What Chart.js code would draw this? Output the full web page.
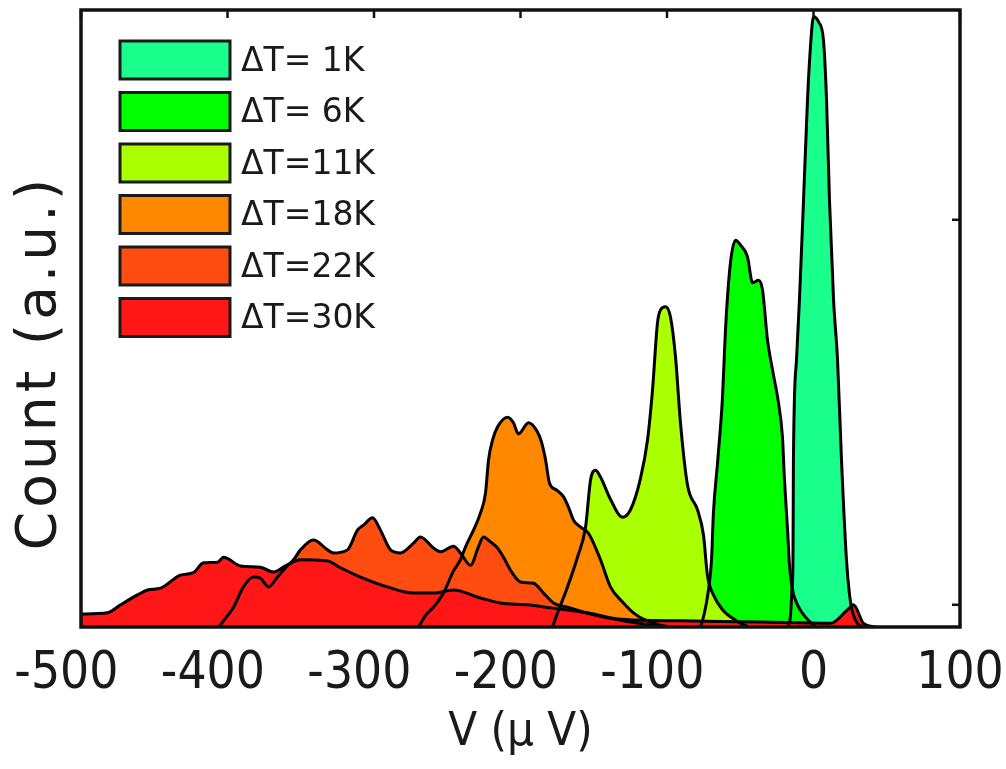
<!DOCTYPE html>
<html lang="en">
  <head>
    <meta charset="UTF-8" />
    <title>Count vs V</title>
    <style>
      html, body { margin: 0; padding: 0; background: #fff; }
      #wrap { width: 1006px; height: 769px; }
    </style>
  </head>
  <body>
    <div id="wrap"><canvas id="myChart"></canvas></div>
    <script src="https://cdn.jsdelivr.net/npm/chart.js@4.4.0/dist/chart.umd.min.js"></script>
    <script>
      // V in microvolts, count in arbitrary units (0..100 over the plot height)
      const x_1K = [-17.7, -15.7, -14.7, -14.0, -13.7, -11.6, -9.6, -6.8, -4.1, -2.0, 0, 3.4, 6.8, 8.9, 10.9, 13.7, 16.4, 19.1, 22.5, 24.6, 26.6, 30.0, 33.4];
      const y_1K = [0, 1.9, 6.0, 10.9, 27.1, 43.3, 53.0, 69.2, 85.4, 94.3, 98.9, 98.1, 95.1, 85.4, 69.2, 53.0, 43.3, 27.1, 10.9, 5.2, 2.4, 0.6, 0];

      const x_6K = [-77.1, -74.4, -71.7, -69.6, -68.3, -65.5, -62.1, -60.1, -56.7, -53.2, -49.8, -45.1, -41.6, -37.5, -34.8, -31.4, -28.0, -23.9, -21.2, -19.8, -17.7, -16.4, -14.3, -10.9, -5.5, 1.4];
      const y_6K = [0, 2.3, 6.0, 10.9, 18.5, 26.6, 37.3, 48.1, 59.0, 62.7, 61.9, 60.0, 55.8, 56.2, 54.6, 46.5, 41.7, 36.3, 30.8, 23.8, 15.7, 10.0, 6.0, 3.6, 1.6, 0];

      const x_11K = [-178.2, -174.7, -167.9, -161.1, -155.6, -152.2, -148.8, -145.4, -138.6, -130.4, -124.9, -118.1, -113.3, -109.9, -106.5, -104.4, -101.0, -97.6, -94.2, -90.8, -86.0, -79.2, -75.1, -72.4, -68.3, -62.1, -53.2, -44.4];
      const y_11K = [0, 2.3, 6.5, 11.3, 16.2, 23.8, 25.4, 24.3, 20.7, 17.8, 19.0, 24.1, 30.3, 38.4, 49.3, 51.4, 51.9, 50.2, 43.8, 33.1, 23.0, 19.0, 14.9, 8.4, 5.2, 2.8, 1.1, 0];

      const x_18K = [-269.6, -264.8, -259.4, -252.6, -245.7, -241.0, -237.5, -232.1, -227.3, -223.9, -221.8, -219.1, -215.7, -208.9, -204.8, -201.4, -194.5, -188.4, -185.7, -182.9, -180.2, -175.4, -170.6, -167.2, -163.8, -159.0, -153.6, -145.4, -138.6, -129.7, -122.9, -114.7, -104.4, -97.6];
      const y_18K = [0, 1.9, 3.2, 5.5, 9.1, 10.9, 13.0, 15.7, 18.5, 21.7, 27.1, 30.3, 32.4, 34.0, 33.1, 31.3, 33.1, 31.6, 30.0, 27.1, 23.3, 22.2, 21.1, 19.4, 17.3, 16.2, 15.2, 10.9, 6.5, 3.9, 2.3, 1.1, 0.3, 0];

      const x_22K = [-406.1, -403.4, -395.9, -389.1, -382.3, -377.5, -372.0, -365.9, -360.4, -354.9, -350.2, -341.3, -331.7, -327.6, -318.1, -311.3, -307.2, -301.0, -295.6, -288.7, -281.9, -273.0, -268.3, -259.4, -254.6, -245.7, -241.0, -234.1, -228.7, -225.3, -220.5, -215.7, -211.6, -206.8, -200.0, -191.1, -184.3, -177.5, -167.9, -152.2, -131.7, -111.3, -104.4];
      const y_22K = [0, 0.8, 3.2, 6.5, 8.1, 7.9, 6.5, 8.1, 9.6, 10.9, 12.5, 14.1, 12.5, 12.0, 12.5, 15.7, 16.5, 17.7, 15.7, 12.5, 12.0, 13.6, 14.6, 12.8, 12.2, 13.1, 12.0, 10.0, 13.0, 14.6, 13.8, 12.8, 11.3, 9.2, 7.3, 7.1, 5.5, 3.9, 3.2, 2.1, 1.1, 0.3, 0];

      const x_30K = [-500, -481.9, -473.0, -461.4, -454.6, -445.7, -432.1, -423.2, -416.4, -406.8, -402.7, -391.1, -377.5, -368.6, -360.4, -350.2, -331.7, -322.9, -309.2, -290.8, -273.0, -259.4, -245.7, -227.3, -213.7, -195.2, -179.5, -154.3, -133.8, -90.8, -36.2, 11.6, 23.2, 27.3, 34.1, 42.3];
      const y_30K = [2.1, 2.3, 3.6, 5.2, 6.0, 6.3, 8.4, 8.8, 10.4, 10.5, 11.3, 9.9, 9.7, 8.9, 9.9, 10.9, 10.7, 9.6, 8.1, 6.5, 5.5, 5.5, 6.0, 4.7, 3.9, 3.6, 3.1, 2.3, 1.3, 1.0, 0.8, 0.6, 2.8, 3.6, 0.6, 0];

      const seriesLabels = ["ΔT= 1K", "ΔT= 6K", "ΔT=11K", "ΔT=18K", "ΔT=22K", "ΔT=30K"];
      const seriesX = [x_1K, x_6K, x_11K, x_18K, x_22K, x_30K];
      const seriesY = [y_1K, y_6K, y_11K, y_18K, y_22K, y_30K];
      const xTicks = [-500, -400, -300, -200, -100, 0, 100];
      const yTickMarks = [3.6, 66];

      const FILLS = ["#1aff8c", "#00ff00", "#aaff00", "#ff8800", "#ff4d12", "#ff1616"];
      const TEXT = "#1a1a1a";
      const COND = "'DejaVu Sans Condensed', 'DejaVu Sans', sans-serif";

      const datasets = seriesLabels.map((lab, i) => ({
        label: lab,
        data: seriesX[i].map((v, j) => ({ x: v, y: seriesY[i][j] })),
        backgroundColor: FILLS[i],
        borderColor: "#000",
        borderWidth: 3,
        fill: "origin",
        pointRadius: 0,
        cubicInterpolationMode: "monotone",
        // hotter curves sit on top
        order: seriesLabels.length - 1 - i,
      }));

      // box around the plot with inward ticks (top and right)
      const frame = {
        id: "frame",
        afterDatasetsDraw(chart) {
          const { ctx, chartArea: a, scales } = chart;
          ctx.save();
          ctx.strokeStyle = "#111";
          ctx.lineWidth = 3.5;
          ctx.strokeRect(a.left, a.top, a.right - a.left, a.bottom - a.top);
          ctx.lineWidth = 2.5;
          xTicks.forEach((v) => {
            const px = scales.x.getPixelForValue(v);
            ctx.beginPath();
            ctx.moveTo(px, a.top);
            ctx.lineTo(px, a.top + 8);
            ctx.stroke();
          });
          yTickMarks.forEach((v) => {
            const py = scales.y.getPixelForValue(v);
            ctx.beginPath();
            ctx.moveTo(a.right, py);
            ctx.lineTo(a.right - 8, py);
            ctx.stroke();
          });
          ctx.restore();
        },
      };

      // legend boxes in the upper left of the plot, plus the y title
      const boxLegend = {
        id: "boxLegend",
        afterDraw(chart) {
          const { ctx, chartArea: a } = chart;
          ctx.save();
          chart.data.datasets.forEach((ds, i) => {
            const top = a.top + 31 + i * 51.5;
            ctx.fillStyle = ds.backgroundColor;
            ctx.fillRect(a.left + 39, top, 110, 38);
            ctx.strokeStyle = "#1a1a1a";
            ctx.lineWidth = 3;
            ctx.strokeRect(a.left + 39, top, 110, 38);
            ctx.fillStyle = TEXT;
            ctx.font = "33px 'DejaVu Sans'";
            ctx.textAlign = "left";
            ctx.textBaseline = "middle";
            ctx.fillText(ds.label, a.left + 160, top + 21);
          });
          ctx.translate(a.left - 40, (a.top + a.bottom) / 2 + 44);
          ctx.rotate(-Math.PI / 2);
          ctx.font = "55px 'DejaVu Sans'";
          ctx.letterSpacing = "4px";
          ctx.textAlign = "center";
          ctx.textBaseline = "middle";
          ctx.fillText("Count (a.u.)", 0, 0);
          ctx.restore();
        },
      };

      const ctx = document.getElementById("myChart");
      const myChart = new Chart(ctx, {
        type: "line",
        data: { datasets: datasets },
        plugins: [frame, boxLegend],
        options: {
          responsive: true,
          maintainAspectRatio: false,
          animation: false,
          layout: { padding: { top: 10, right: 46, left: 0, bottom: 0 } },
          plugins: {
            legend: { display: false },
            tooltip: { enabled: false },
            filler: { drawTime: "beforeDatasetsDraw" },
          },
          scales: {
            x: {
              type: "linear",
              min: -500,
              max: 100,
              afterFit: (s) => {
                s.height = 142;
                s.paddingLeft = 0;
                s.paddingRight = 0;
              },
              afterBuildTicks: (s) => { s.ticks = xTicks.map((v) => ({ value: v })); },
              grid: { display: false, drawTicks: false },
              border: { display: false },
              ticks: {
                color: TEXT,
                padding: 17,
                font: { family: COND, size: 51 },
                // the digits, not the minus sign, sit under the tick
                callback: (v) => (v < 0 ? v + "  " : String(v)),
              },
              title: {
                display: true,
                text: "V (μ V)",
                color: TEXT,
                font: { family: COND, size: 47 },
                padding: { top: 0, bottom: 8 },
              },
            },
            y: {
              min: 0,
              max: 100,
              afterFit: (s) => { s.width = 81; },
              grid: { display: false, drawTicks: false },
              border: { display: false },
              ticks: { display: false },
            },
          },
        },
      });
    </script>
  </body>
</html>
